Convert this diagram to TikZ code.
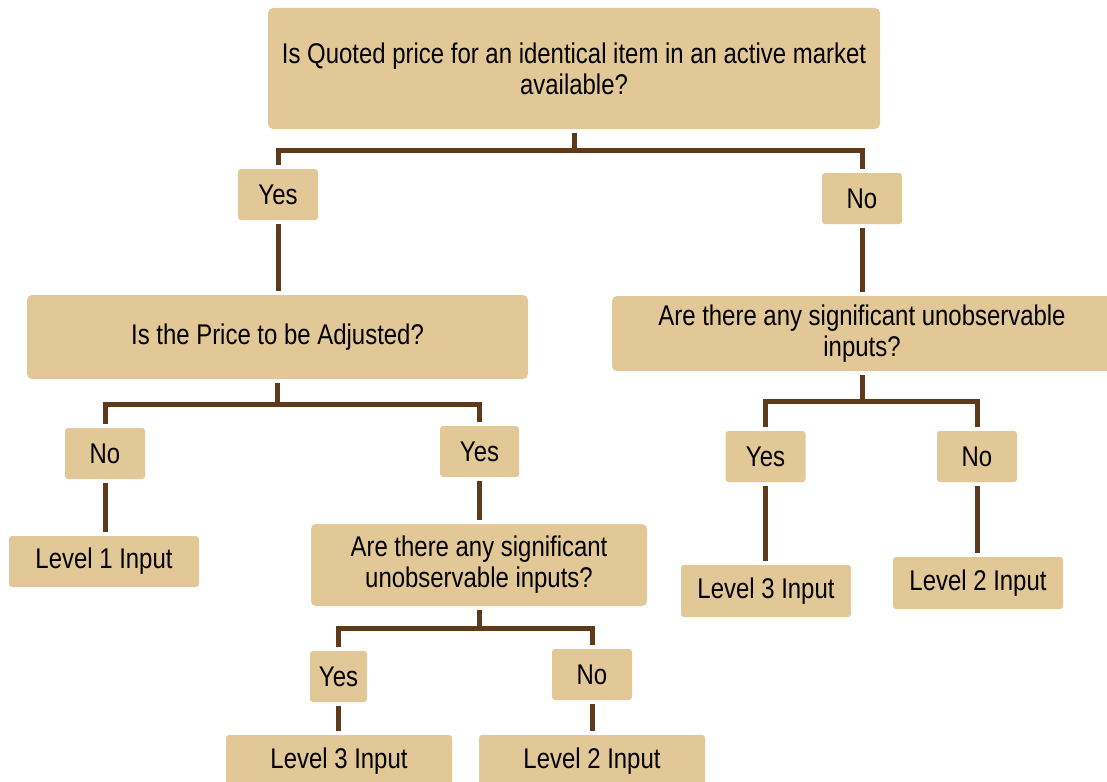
\documentclass[tikz,border=0pt]{standalone}
\usepackage{fontspec}
\setmainfont{Liberation Sans}[FakeStretch=0.84]
\definecolor{boxfill}{HTML}{E2C797}
\definecolor{wire}{HTML}{5E3A1A}
\begin{document}
\begin{tikzpicture}[x=1pt,y=-1pt,
  box/.style={fill=boxfill, rounded corners=5pt, align=center, inner sep=0pt,
    font=\fontsize{28.5}{31}\selectfont},
  tag/.style={box, rounded corners=3pt, minimum width=80pt, minimum height=51pt},
  conn/.style={draw=wire, line width=5pt, shorten <=4pt, shorten >=4pt}]
\useasboundingbox (0,0) rectangle (1107,781);
\clip (0,0) rectangle (1107,781);

% questions
\node[box, minimum width=612pt, minimum height=121pt] (q1) at (574,68.5)
  {Is Quoted price for an identical item in an active market\\available?};
\node[box, minimum width=501pt, minimum height=84pt] (q2) at (277.5,337) {Is the Price to be Adjusted?};
\node[box, minimum width=500pt, minimum height=75pt] (q3) at (862,333.5)
  {Are there any significant unobservable\\inputs?};
\node[box, minimum width=336pt, minimum height=82pt] (q4) at (479,565)
  {Are there any significant\\unobservable inputs?};

% answers
\node[tag] (y1) at (278,194.5) {Yes};
\node[tag] (n1) at (862,198.5) {No};
\node[tag] (n2) at (105,453.5) {No};
\node[tag, minimum width=79pt] (y2) at (479.5,451.5) {Yes};
\node[tag] (y3) at (765.5,456.5) {Yes};
\node[tag] (n3) at (977,456.5) {No};
\node[tag, minimum width=57pt] (y4) at (338.5,676.5) {Yes};
\node[tag] (n4) at (592,674.5) {No};

% results
\node[box, rounded corners=3pt, minimum width=190pt, minimum height=51pt] (l1) at (104,561.5) {Level 1 Input};
\node[box, rounded corners=3pt, minimum width=170pt, minimum height=52pt] (l3a) at (766,591) {Level 3 Input};
\node[box, rounded corners=3pt, minimum width=170pt, minimum height=52pt] (l2a) at (978,583) {Level 2 Input};
\node[box, rounded corners=3pt, minimum width=226pt, minimum height=52pt] (l3b) at (339,761) {Level 3 Input};
\node[box, rounded corners=3pt, minimum width=226pt, minimum height=52pt] (l2b) at (592,761) {Level 2 Input};

% branches
\draw[conn] (q1.south) -- ++(0,21) -| (y1.north);
\draw[conn] (q1.south) -- ++(0,21) -| (n1.north);
\draw[conn] (y1.south) -- (y1.south |- q2.north);
\draw[conn] (n1.south) -- (n1.south |- q3.north);

\draw[conn] (q2.south) -- ++(0,25) -| (n2.north);
\draw[conn] (q2.south) -- ++(0,25) -| (y2.north);
\draw[conn] (n2.south) -- (n2.south |- l1.north);
\draw[conn] (y2.south) -- (y2.south |- q4.north);

\draw[conn] (q3.south) -- ++(0,30) -| (y3.north);
\draw[conn] (q3.south) -- ++(0,30) -| (n3.north);
\draw[conn] (y3.south) -- (y3.south |- l3a.north);
\draw[conn] (n3.south) -- (n3.south |- l2a.north);

\draw[conn] (q4.south) -- ++(0,22) -| (y4.north);
\draw[conn] (q4.south) -- ++(0,22) -| (n4.north);
\draw[conn] (y4.south) -- (y4.south |- l3b.north);
\draw[conn] (n4.south) -- (n4.south |- l2b.north);
\end{tikzpicture}
\end{document}
